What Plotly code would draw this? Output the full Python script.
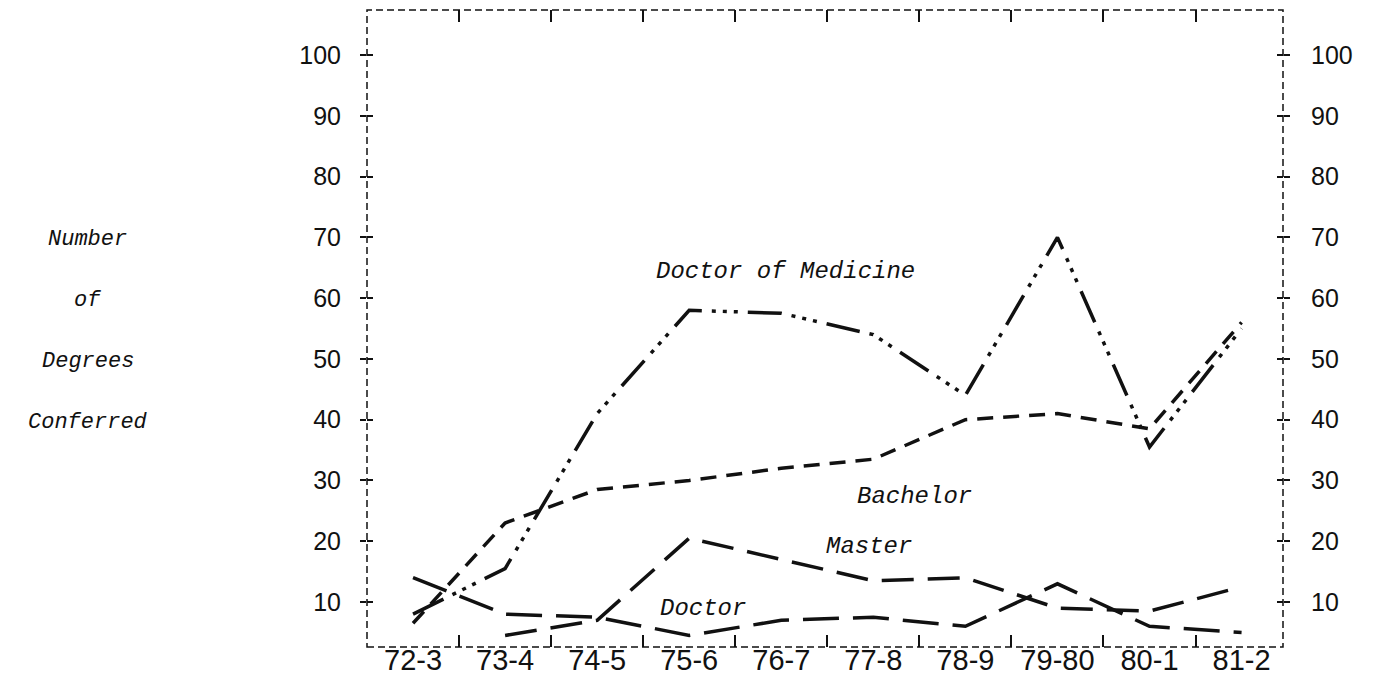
import plotly.graph_objects as go

# academic years on the x axis
years = ["72-3", "73-4", "74-5", "75-6", "76-7", "77-8", "78-9", "79-80", "80-1", "81-2"]

# number of degrees conferred
medicine = [8, 15.5, 41, 58, 57.5, 54, 44, 70, 35.5, 55]
bachelor = [6.5, 23, 28.5, 30, 32, 33.5, 40, 41, 38.5, 56]
master = [None, 4.5, 7, 20.5, 17, 13.5, 14, 9, 8.5, 12.5]
doctor = [14, 8, 7.5, 4.5, 7, 7.5, 6, 13, 6, 5]

y_ticks = [10, 20, 30, 40, 50, 60, 70, 80, 90, 100]
y_title = ["Number", "of", "Degrees", "Conferred"]

INK = "#111111"
TYPEWRITER = "Liberation Mono"

fig = go.Figure()

# each series sits on its own (identically scaled) axis pair so that the
# overlaid axes, which give the crossed ticks and the top/right scales, get drawn
fig.add_scatter(x=years, y=medicine, mode="lines", name="Doctor of Medicine",
                xaxis="x", yaxis="y",
                line=dict(color=INK, width=3.5, dash="34px,10px,4px,7px,4px,7px,4px,10px"))
fig.add_scatter(x=years, y=bachelor, mode="lines", name="Bachelor",
                xaxis="x2", yaxis="y2",
                line=dict(color=INK, width=3.5, dash="16px,10px"))
fig.add_scatter(x=years, y=master, mode="lines", name="Master",
                xaxis="x", yaxis="y3",
                line=dict(color=INK, width=3.5, dash="32px,14px"))
fig.add_scatter(x=years, y=doctor, mode="lines", name="Doctor",
                xaxis="x", yaxis="y4",
                line=dict(color=INK, width=3.5, dash="36px,14px"))

# series labels written next to the lines
labels = [
    ("Doctor of Medicine", 4.05, 64.3),
    ("Bachelor", 5.45, 27.3),
    ("Master", 4.95, 19.2),
    ("Doctor", 3.15, 9.0),
]
for text, lx, ly in labels:
    fig.add_annotation(x=lx, y=ly, xref="x", yref="y", text=text, showarrow=False,
                       font=dict(family=TYPEWRITER, size=24, color=INK, style="italic"))

# y title on the far left, one word per line
for i, word in enumerate(y_title):
    fig.add_annotation(x=-0.305, y=0.64 - i * 0.096, xref="paper", yref="paper", text=word,
                       showarrow=False, xanchor="center",
                       font=dict(family=TYPEWRITER, size=22, color=INK, style="italic"))

# dashed frame around the plot area
fig.add_shape(type="rect", xref="paper", yref="paper", x0=0, x1=1, y0=0, y1=1,
              line=dict(color=INK, width=1.5, dash="7px,4px"))

x_range = [-0.5, 9.45]
y_range = [2.6, 107.4]
tick_font = dict(family="Liberation Sans", size=25, color=INK)
common_x = dict(type="category", categoryarray=years, categoryorder="array", range=x_range,
                tickson="boundaries", ticks="inside", ticklen=12, tickwidth=2, tickcolor=INK,
                showgrid=False, zeroline=False, showline=False, automargin=False)
common_y = dict(range=y_range, tickvals=y_ticks, showgrid=False, zeroline=False,
                showline=False, ticklen=6, tickwidth=2, tickcolor=INK, automargin=False)

fig.update_layout(
    width=1373, height=675,
    # the page body adds an 8px offset, so the margins are shifted to compensate
    margin=dict(l=359, r=98, t=2, b=36),
    plot_bgcolor="white", paper_bgcolor="white",
    showlegend=False,
    xaxis=dict(side="bottom", ticklabelstandoff=-7,
               tickfont=dict(family="Liberation Sans", size=29, color=INK), **common_x),
    xaxis2=dict(overlaying="x", side="top", anchor="y", showticklabels=False, **common_x),
    yaxis=dict(side="left", ticks="outside", tickfont=tick_font,
               ticklabelstandoff=14, **common_y),
    yaxis2=dict(overlaying="y", side="right", anchor="x2", ticks="outside", tickfont=tick_font,
                ticklabelstandoff=16, **common_y),
    yaxis3=dict(overlaying="y", side="left", anchor="x", ticks="inside",
                showticklabels=False, **common_y),
    yaxis4=dict(overlaying="y", side="right", anchor="x", ticks="inside",
                showticklabels=False, **common_y),
)

fig.write_html("out.html")
